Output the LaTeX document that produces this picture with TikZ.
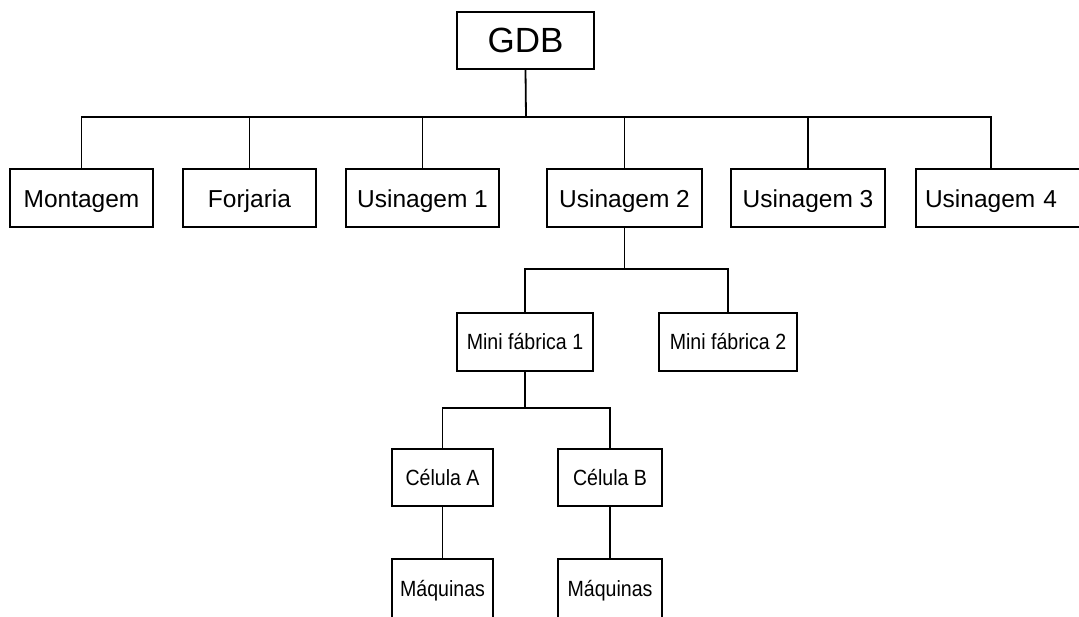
\documentclass[tikz,border=0pt]{standalone}
\usepackage{fontspec}
\setmainfont{Liberation Sans}
\newfontfamily\narrowsans[FakeStretch=0.89]{Liberation Sans}
\usepackage{tikz}

\begin{document}
\begin{tikzpicture}[x=1pt, y=-1pt, line width=1.8pt,
	box/.style={draw, line width=1.8pt, inner sep=0pt, minimum height=58pt},
	topfont/.style={font=\fontsize{35}{40}\selectfont},
	midfont/.style={font=\fontsize{24.5}{28}\selectfont, text height=22pt, text depth=2.6pt},
	lowfont/.style={font=\narrowsans\fontsize{22}{26}\selectfont}]
		%%%%% START %%%%%
		\useasboundingbox (0, 0) rectangle (1079, 617);
		\clip (0, 0) rectangle (1079, 617);
		
		\node[box, topfont, minimum width=137pt, minimum height=57pt] (gdb) at (525.5, 40.5) {GDB};
		
		\node[box, midfont, minimum width=143pt] (montagem) at (81.5, 198) {Montagem};
		\node[box, midfont, minimum width=133pt] (forjaria) at (249.5, 198) {Forjaria};
		\node[box, midfont, minimum width=153pt] (usin1) at (422.5, 198) {Usinagem 1};
		\node[box, midfont, minimum width=155pt] (usin2) at (624.5, 198) {Usinagem 2};
		\node[box, midfont, minimum width=154pt] (usin3) at (808, 198) {Usinagem 3};
		\node[box, midfont, inner xsep=9pt, text width=156pt, align=left] (usin4) at (1003, 198) {Usinagem 4};
		
		\coordinate (busA) at (526, 117);
		\draw (gdb.south) -- (busA);
		\draw (montagem.north) |- (busA) -| ([xshift=76pt]usin4.north west);
		\foreach \n in {forjaria, usin1, usin2, usin3}
			\draw (\n.north) -- (\n.north |- busA);
		
		\node[box, lowfont, minimum width=136pt] (mini1) at (525, 342) {Mini fábrica 1};
		\node[box, lowfont, minimum width=138pt] (mini2) at (728, 342) {Mini fábrica 2};
		
		\coordinate (busB) at (626, 269);
		\draw (usin2.south) -- (usin2.south |- busB);
		\draw (mini1.north) |- (busB) -| (mini2.north);
		
		\node[box, lowfont, minimum width=101pt, minimum height=57pt] (celA) at (442.5, 477.5) {Célula A};
		\node[box, lowfont, minimum width=104pt, minimum height=57pt] (celB) at (610, 477.5) {Célula B};
		
		\coordinate (busC) at (526, 408);
		\draw (mini1.south) -- (mini1.south |- busC);
		\draw (celA.north) |- (busC) -| (celB.north);
		
		\node[box, lowfont, minimum width=101pt, minimum height=64pt] (maqA) at (442.5, 591) {Máquinas};
		\node[box, lowfont, minimum width=104pt, minimum height=64pt] (maqB) at (610, 591) {Máquinas};
		\draw (celA.south) -- (maqA.north);
		\draw (celB.south) -- (maqB.north);
		
		%%%%% END %%%%%
\end{tikzpicture}
\end{document}
